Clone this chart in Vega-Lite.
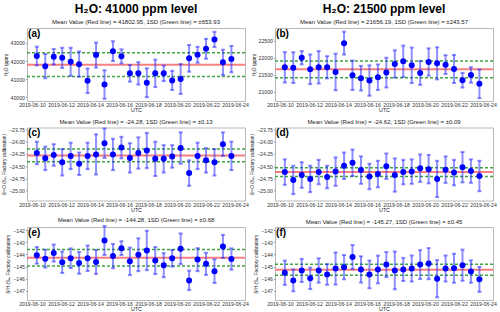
{
  "$schema": "https://vega.github.io/schema/vega-lite/v6.json",
  "background": "white",
  "padding": {"left": 0, "top": 2, "right": 1, "bottom": 0},
  "columns": 2,
  "bounds": "flush",
  "spacing": {"row": 26.5, "column": 30},
  "datasets": {
    "obs": [
      {"t": "2019-06-10T08:00:00Z", "a": 42280, "ae": 520, "b": 21716, "be": 445, "c": -24.23, "ce": 0.23, "d": -24.62, "de": 0.26, "e": -144.08, "ee": 0.68, "f": -145.51, "fe": 1.00},
      {"t": "2019-06-10T22:00:00Z", "a": 41720, "ae": 670, "b": 21706, "be": 450, "c": -24.34, "ce": 0.24, "d": -24.78, "de": 0.29, "e": -144.35, "ee": 0.74, "f": -146.14, "fe": 0.90},
      {"t": "2019-06-11T12:00:00Z", "a": 42240, "ae": 430, "b": 21997, "be": 195, "c": -24.27, "ce": 0.22, "d": -24.68, "de": 0.26, "e": -143.89, "ee": 0.70, "f": -145.32, "fe": 0.95},
      {"t": "2019-06-12T02:00:00Z", "a": 42180, "ae": 560, "b": 21658, "be": 435, "c": -24.42, "ce": 0.27, "d": -24.76, "de": 0.27, "e": -144.65, "ee": 0.88, "f": -145.97, "fe": 0.88},
      {"t": "2019-06-12T16:00:00Z", "a": 41960, "ae": 780, "b": 21716, "be": 475, "c": -24.29, "ce": 0.27, "d": -24.62, "de": 0.25, "e": -144.32, "ee": 0.81, "f": -145.32, "fe": 1.00},
      {"t": "2019-06-13T06:00:00Z", "a": 41830, "ae": 700, "b": 21716, "be": 325, "c": -24.45, "ce": 0.23, "d": -24.72, "de": 0.23, "e": -144.70, "ee": 0.89, "f": -145.65, "fe": 0.85},
      {"t": "2019-06-13T20:00:00Z", "a": 40910, "ae": 680, "b": 21580, "be": 535, "c": -24.29, "ce": 0.27, "d": -24.61, "de": 0.29, "e": -144.32, "ee": 1.05, "f": -145.16, "fe": 1.32},
      {"t": "2019-06-14T10:00:00Z", "a": 42330, "ae": 690, "b": 22423, "be": 335, "c": -24.26, "ce": 0.41, "d": -24.49, "de": 0.27, "e": -144.62, "ee": 0.99, "f": -145.05, "fe": 1.00},
      {"t": "2019-06-15T00:00:00Z", "a": 40700, "ae": 790, "b": 21484, "be": 430, "c": -24.03, "ce": 0.30, "d": -24.43, "de": 0.27, "e": -142.86, "ee": 1.19, "f": -144.22, "fe": 0.99},
      {"t": "2019-06-15T14:00:00Z", "a": 42550, "ae": 550, "b": 21397, "be": 360, "c": -24.26, "ce": 0.32, "d": -24.58, "de": 0.28, "e": -144.14, "ee": 1.00, "f": -145.24, "fe": 1.08},
      {"t": "2019-06-16T04:00:00Z", "a": 42260, "ae": 390, "b": 21329, "be": 445, "c": -24.12, "ce": 0.22, "d": -24.71, "de": 0.26, "e": -143.49, "ee": 0.57, "f": -145.65, "fe": 1.14},
      {"t": "2019-06-16T18:00:00Z", "a": 41320, "ae": 460, "b": 21426, "be": 375, "c": -24.33, "ce": 0.30, "d": -24.66, "de": 0.27, "e": -144.57, "ee": 1.13, "f": -145.24, "fe": 1.14},
      {"t": "2019-06-17T08:00:00Z", "a": 41320, "ae": 620, "b": 21561, "be": 435, "c": -24.23, "ce": 0.32, "d": -24.50, "de": 0.26, "e": -144.03, "ee": 1.35, "f": -144.84, "fe": 1.03},
      {"t": "2019-06-17T22:00:00Z", "a": 40800, "ae": 800, "b": 21813, "be": 400, "c": -24.18, "ce": 0.36, "d": -24.68, "de": 0.34, "e": -143.68, "ee": 1.62, "f": -145.32, "fe": 1.55},
      {"t": "2019-06-18T12:00:00Z", "a": 41320, "ae": 760, "b": 21890, "be": 460, "c": -24.35, "ce": 0.35, "d": -24.62, "de": 0.25, "e": -144.51, "ee": 1.11, "f": -145.24, "fe": 0.95},
      {"t": "2019-06-19T02:00:00Z", "a": 41320, "ae": 430, "b": 21774, "be": 520, "c": -24.35, "ce": 0.28, "d": -24.61, "de": 0.25, "e": -144.89, "ee": 0.99, "f": -145.16, "fe": 1.07},
      {"t": "2019-06-19T16:00:00Z", "a": 40930, "ae": 530, "b": 21551, "be": 350, "c": -24.30, "ce": 0.23, "d": -24.54, "de": 0.28, "e": -144.32, "ee": 0.68, "f": -144.84, "fe": 1.19},
      {"t": "2019-06-20T06:00:00Z", "a": 41010, "ae": 830, "b": 21871, "be": 400, "c": -24.13, "ce": 0.32, "d": -24.56, "de": 0.29, "e": -143.54, "ee": 1.26, "f": -144.76, "fe": 1.28},
      {"t": "2019-06-20T20:00:00Z", "a": 42150, "ae": 740, "b": 21832, "be": 470, "c": -24.64, "ce": 0.26, "d": -24.76, "de": 0.37, "e": -146.14, "ee": 0.80, "f": -146.00, "fe": 1.53},
      {"t": "2019-06-21T10:00:00Z", "a": 42350, "ae": 440, "b": 21794, "be": 275, "c": -24.29, "ce": 0.27, "d": -24.57, "de": 0.27, "e": -144.43, "ee": 0.95, "f": -145.16, "fe": 1.07},
      {"t": "2019-06-22T00:00:00Z", "a": 42680, "ae": 550, "b": 21667, "be": 410, "c": -24.38, "ce": 0.25, "d": -24.63, "de": 0.26, "e": -144.78, "ee": 0.91, "f": -145.14, "fe": 1.19},
      {"t": "2019-06-22T14:00:00Z", "a": 43200, "ae": 420, "b": 21338, "be": 215, "c": -24.42, "ce": 0.27, "d": -24.52, "de": 0.31, "e": -145.38, "ee": 0.97, "f": -144.89, "fe": 1.28},
      {"t": "2019-06-23T04:00:00Z", "a": 41930, "ae": 700, "b": 21494, "be": 225, "c": -24.05, "ce": 0.24, "d": -24.60, "de": 0.24, "e": -143.35, "ee": 0.95, "f": -145.41, "fe": 0.92},
      {"t": "2019-06-23T18:00:00Z", "a": 42110, "ae": 730, "b": 21232, "be": 420, "c": -24.29, "ce": 0.29, "d": -24.70, "de": 0.31, "e": -144.38, "ee": 0.88, "f": -146.05, "fe": 1.03}
    ]
  },
  "concat": [
    {
      "title": {"text": "H₂O: 41000 ppm level", "subtitle": "Mean Value (Red line) = 41802.95, 1SD (Green line) = ±653.93", "fontSize": 12, "fontWeight": "bold", "subtitleFontSize": 6, "subtitlePadding": 3, "subtitleColor": "#222", "color": "#000", "offset": 2},
      "width": 218, "height": 73,
      "layer": [
        {"data": {"values": [{"y": 42456.88}, {"y": 41149.02}]}, "mark": {"type": "rule", "color": "#2f9a2f", "strokeWidth": 1.5, "strokeDash": [3, 2], "opacity": 0.9}, "encoding": {"y": {"field": "y", "type": "quantitative", "title": "H₂O (ppm)"}}},
        {"data": {"values": [{"y": 41802.95}]}, "mark": {"type": "rule", "color": "#f46a6a", "strokeWidth": 2, "opacity": 0.85}, "encoding": {"y": {"field": "y", "type": "quantitative", "title": "H₂O (ppm)"}}},
        {"data": {"name": "obs"}, "mark": {"type": "errorbar", "ticks": true, "thickness": 2, "color": "#2020ff", "opacity": 0.5},
         "encoding": {"x": {"field": "t", "type": "temporal", "title": "UTC", "scale": {"type": "utc", "domain": [{"year": 2019, "month": 6, "date": 9, "hours": 15, "minutes": 45, "utc": true}, {"year": 2019, "month": 6, "date": 24, "hours": 16, "minutes": 30, "utc": true}]}, "axis": {"format": "%Y-%m-%d", "values": [{"year": 2019, "month": 6, "date": 10, "utc": true}, {"year": 2019, "month": 6, "date": 12, "utc": true}, {"year": 2019, "month": 6, "date": 14, "utc": true}, {"year": 2019, "month": 6, "date": 16, "utc": true}, {"year": 2019, "month": 6, "date": 18, "utc": true}, {"year": 2019, "month": 6, "date": 20, "utc": true}, {"year": 2019, "month": 6, "date": 22, "utc": true}, {"year": 2019, "month": 6, "date": 24, "utc": true}]}},
                      "y": {"field": "a", "type": "quantitative", "title": "H₂O (ppm)", "scale": {"domain": [39790, 43830], "nice": false, "zero": false}, "axis": {"values": [40000, 41000, 42000, 43000], "format": "d"}},
                      "yError": {"field": "ae"}}},
        {"data": {"name": "obs"}, "mark": {"type": "point", "shape": "circle", "filled": true, "size": 36, "color": "#0000ff", "opacity": 1},
         "encoding": {"x": {"field": "t", "type": "temporal", "title": "UTC"}, "y": {"field": "a", "type": "quantitative", "title": "H₂O (ppm)"}}},
        {"data": {"values": [{"t": "2019-06-09T17:30:00Z", "v": 43500, "s": "(a)"}]}, "mark": {"type": "text", "fontSize": 10, "fontWeight": "bold", "align": "left", "baseline": "middle", "color": "#000"},
         "encoding": {"x": {"field": "t", "type": "temporal", "title": "UTC"}, "y": {"field": "v", "type": "quantitative", "title": "H₂O (ppm)"}, "text": {"field": "s"}}}
      ]
    },
    {
      "title": {"text": "H₂O: 21500 ppm level", "subtitle": "Mean Value (Red line) = 21656.19, 1SD (Green line) = ±243.57", "fontSize": 12, "fontWeight": "bold", "subtitleFontSize": 6, "subtitlePadding": 3, "subtitleColor": "#222", "color": "#000", "offset": 2},
      "width": 218, "height": 73,
      "layer": [
        {"data": {"values": [{"y": 21899.76}, {"y": 21412.62}]}, "mark": {"type": "rule", "color": "#2f9a2f", "strokeWidth": 1.5, "strokeDash": [3, 2], "opacity": 0.9}, "encoding": {"y": {"field": "y", "type": "quantitative", "title": "H₂O (ppm)"}}},
        {"data": {"values": [{"y": 21656.19}]}, "mark": {"type": "rule", "color": "#f46a6a", "strokeWidth": 2, "opacity": 0.85}, "encoding": {"y": {"field": "y", "type": "quantitative", "title": "H₂O (ppm)"}}},
        {"data": {"name": "obs"}, "mark": {"type": "errorbar", "ticks": true, "thickness": 2, "color": "#2020ff", "opacity": 0.5},
         "encoding": {"x": {"field": "t", "type": "temporal", "title": "UTC", "scale": {"type": "utc", "domain": [{"year": 2019, "month": 6, "date": 9, "hours": 15, "minutes": 45, "utc": true}, {"year": 2019, "month": 6, "date": 24, "hours": 16, "minutes": 30, "utc": true}]}, "axis": {"format": "%Y-%m-%d", "values": [{"year": 2019, "month": 6, "date": 10, "utc": true}, {"year": 2019, "month": 6, "date": 12, "utc": true}, {"year": 2019, "month": 6, "date": 14, "utc": true}, {"year": 2019, "month": 6, "date": 16, "utc": true}, {"year": 2019, "month": 6, "date": 18, "utc": true}, {"year": 2019, "month": 6, "date": 20, "utc": true}, {"year": 2019, "month": 6, "date": 22, "utc": true}, {"year": 2019, "month": 6, "date": 24, "utc": true}]}},
                      "y": {"field": "b", "type": "quantitative", "title": "H₂O (ppm)", "scale": {"domain": [20730, 22866], "nice": false, "zero": false}, "axis": {"values": [21000, 21500, 22000, 22500], "format": "d"}},
                      "yError": {"field": "be"}}},
        {"data": {"name": "obs"}, "mark": {"type": "point", "shape": "circle", "filled": true, "size": 36, "color": "#0000ff", "opacity": 1},
         "encoding": {"x": {"field": "t", "type": "temporal", "title": "UTC"}, "y": {"field": "b", "type": "quantitative", "title": "H₂O (ppm)"}}},
        {"data": {"values": [{"t": "2019-06-09T17:30:00Z", "v": 22695, "s": "(b)"}]}, "mark": {"type": "text", "fontSize": 10, "fontWeight": "bold", "align": "left", "baseline": "middle", "color": "#000"},
         "encoding": {"x": {"field": "t", "type": "temporal", "title": "UTC"}, "y": {"field": "v", "type": "quantitative", "title": "H₂O (ppm)"}, "text": {"field": "s"}}}
      ]
    },
    {
      "title": {"text": "Mean Value (Red line) = -24.28, 1SD (Green line) = ±0.13"},
      "width": 218, "height": 73,
      "layer": [
        {"data": {"values": [{"y": -24.15}, {"y": -24.41}]}, "mark": {"type": "rule", "color": "#2f9a2f", "strokeWidth": 1.5, "strokeDash": [3, 2], "opacity": 0.9}, "encoding": {"y": {"field": "y", "type": "quantitative", "title": "δ¹⁸O (‰, Factory calibration)"}}},
        {"data": {"values": [{"y": -24.28}]}, "mark": {"type": "rule", "color": "#f46a6a", "strokeWidth": 2, "opacity": 0.85}, "encoding": {"y": {"field": "y", "type": "quantitative", "title": "δ¹⁸O (‰, Factory calibration)"}}},
        {"data": {"name": "obs"}, "mark": {"type": "errorbar", "ticks": true, "thickness": 2, "color": "#2020ff", "opacity": 0.5},
         "encoding": {"x": {"field": "t", "type": "temporal", "title": "UTC", "scale": {"type": "utc", "domain": [{"year": 2019, "month": 6, "date": 9, "hours": 15, "minutes": 45, "utc": true}, {"year": 2019, "month": 6, "date": 24, "hours": 16, "minutes": 30, "utc": true}]}, "axis": {"format": "%Y-%m-%d", "values": [{"year": 2019, "month": 6, "date": 10, "utc": true}, {"year": 2019, "month": 6, "date": 12, "utc": true}, {"year": 2019, "month": 6, "date": 14, "utc": true}, {"year": 2019, "month": 6, "date": 16, "utc": true}, {"year": 2019, "month": 6, "date": 18, "utc": true}, {"year": 2019, "month": 6, "date": 20, "utc": true}, {"year": 2019, "month": 6, "date": 22, "utc": true}, {"year": 2019, "month": 6, "date": 24, "utc": true}]}},
                      "y": {"field": "c", "type": "quantitative", "title": "δ¹⁸O (‰, Factory calibration)", "scale": {"domain": [-25.2, -23.71], "nice": false, "zero": false}, "axis": {"values": [-25, -24.75, -24.5, -24.25, -24, -23.75], "format": ".2f"}},
                      "yError": {"field": "ce"}}},
        {"data": {"name": "obs"}, "mark": {"type": "point", "shape": "circle", "filled": true, "size": 36, "color": "#0000ff", "opacity": 1},
         "encoding": {"x": {"field": "t", "type": "temporal", "title": "UTC"}, "y": {"field": "c", "type": "quantitative", "title": "δ¹⁸O (‰, Factory calibration)"}}},
        {"data": {"values": [{"t": "2019-06-09T17:30:00Z", "v": -23.83, "s": "(c)"}]}, "mark": {"type": "text", "fontSize": 10, "fontWeight": "bold", "align": "left", "baseline": "middle", "color": "#000"},
         "encoding": {"x": {"field": "t", "type": "temporal", "title": "UTC"}, "y": {"field": "v", "type": "quantitative", "title": "δ¹⁸O (‰, Factory calibration)"}, "text": {"field": "s"}}}
      ]
    },
    {
      "title": {"text": "Mean Value (Red line) = -24.62, 1SD (Green line) = ±0.09"},
      "width": 218, "height": 73,
      "layer": [
        {"data": {"values": [{"y": -24.53}, {"y": -24.71}]}, "mark": {"type": "rule", "color": "#2f9a2f", "strokeWidth": 1.5, "strokeDash": [3, 2], "opacity": 0.9}, "encoding": {"y": {"field": "y", "type": "quantitative", "title": "δ¹⁸O (‰, Factory calibration)"}}},
        {"data": {"values": [{"y": -24.62}]}, "mark": {"type": "rule", "color": "#f46a6a", "strokeWidth": 2, "opacity": 0.85}, "encoding": {"y": {"field": "y", "type": "quantitative", "title": "δ¹⁸O (‰, Factory calibration)"}}},
        {"data": {"name": "obs"}, "mark": {"type": "errorbar", "ticks": true, "thickness": 2, "color": "#2020ff", "opacity": 0.5},
         "encoding": {"x": {"field": "t", "type": "temporal", "title": "UTC", "scale": {"type": "utc", "domain": [{"year": 2019, "month": 6, "date": 9, "hours": 15, "minutes": 45, "utc": true}, {"year": 2019, "month": 6, "date": 24, "hours": 16, "minutes": 30, "utc": true}]}, "axis": {"format": "%Y-%m-%d", "values": [{"year": 2019, "month": 6, "date": 10, "utc": true}, {"year": 2019, "month": 6, "date": 12, "utc": true}, {"year": 2019, "month": 6, "date": 14, "utc": true}, {"year": 2019, "month": 6, "date": 16, "utc": true}, {"year": 2019, "month": 6, "date": 18, "utc": true}, {"year": 2019, "month": 6, "date": 20, "utc": true}, {"year": 2019, "month": 6, "date": 22, "utc": true}, {"year": 2019, "month": 6, "date": 24, "utc": true}]}},
                      "y": {"field": "d", "type": "quantitative", "title": "δ¹⁸O (‰, Factory calibration)", "scale": {"domain": [-25.2, -23.71], "nice": false, "zero": false}, "axis": {"values": [-25, -24.75, -24.5, -24.25, -24, -23.75], "format": ".2f"}},
                      "yError": {"field": "de"}}},
        {"data": {"name": "obs"}, "mark": {"type": "point", "shape": "circle", "filled": true, "size": 36, "color": "#0000ff", "opacity": 1},
         "encoding": {"x": {"field": "t", "type": "temporal", "title": "UTC"}, "y": {"field": "d", "type": "quantitative", "title": "δ¹⁸O (‰, Factory calibration)"}}},
        {"data": {"values": [{"t": "2019-06-09T17:30:00Z", "v": -23.83, "s": "(d)"}]}, "mark": {"type": "text", "fontSize": 10, "fontWeight": "bold", "align": "left", "baseline": "middle", "color": "#000"},
         "encoding": {"x": {"field": "t", "type": "temporal", "title": "UTC"}, "y": {"field": "v", "type": "quantitative", "title": "δ¹⁸O (‰, Factory calibration)"}, "text": {"field": "s"}}}
      ]
    },
    {
      "title": {"text": "Mean Value (Red line) = -144.28, 1SD (Green line) = ±0.68"},
      "width": 218, "height": 73,
      "layer": [
        {"data": {"values": [{"y": -143.60}, {"y": -144.96}]}, "mark": {"type": "rule", "color": "#2f9a2f", "strokeWidth": 1.5, "strokeDash": [3, 2], "opacity": 0.9}, "encoding": {"y": {"field": "y", "type": "quantitative", "title": "δ²H (‰, Factory calibration)"}}},
        {"data": {"values": [{"y": -144.28}]}, "mark": {"type": "rule", "color": "#f46a6a", "strokeWidth": 2, "opacity": 0.85}, "encoding": {"y": {"field": "y", "type": "quantitative", "title": "δ²H (‰, Factory calibration)"}}},
        {"data": {"name": "obs"}, "mark": {"type": "errorbar", "ticks": true, "thickness": 2, "color": "#2020ff", "opacity": 0.5},
         "encoding": {"x": {"field": "t", "type": "temporal", "title": "UTC", "scale": {"type": "utc", "domain": [{"year": 2019, "month": 6, "date": 9, "hours": 15, "minutes": 45, "utc": true}, {"year": 2019, "month": 6, "date": 24, "hours": 16, "minutes": 30, "utc": true}]}, "axis": {"format": "%Y-%m-%d", "values": [{"year": 2019, "month": 6, "date": 10, "utc": true}, {"year": 2019, "month": 6, "date": 12, "utc": true}, {"year": 2019, "month": 6, "date": 14, "utc": true}, {"year": 2019, "month": 6, "date": 16, "utc": true}, {"year": 2019, "month": 6, "date": 18, "utc": true}, {"year": 2019, "month": 6, "date": 20, "utc": true}, {"year": 2019, "month": 6, "date": 22, "utc": true}, {"year": 2019, "month": 6, "date": 24, "utc": true}]}},
                      "y": {"field": "e", "type": "quantitative", "title": "δ²H (‰, Factory calibration)", "scale": {"domain": [-147.75, -141.75], "nice": false, "zero": false}, "axis": {"values": [-147, -146, -145, -144, -143, -142], "format": "d"}},
                      "yError": {"field": "ee"}}},
        {"data": {"name": "obs"}, "mark": {"type": "point", "shape": "circle", "filled": true, "size": 36, "color": "#0000ff", "opacity": 1},
         "encoding": {"x": {"field": "t", "type": "temporal", "title": "UTC"}, "y": {"field": "e", "type": "quantitative", "title": "δ²H (‰, Factory calibration)"}}},
        {"data": {"values": [{"t": "2019-06-09T17:30:00Z", "v": -142.25, "s": "(e)"}]}, "mark": {"type": "text", "fontSize": 10, "fontWeight": "bold", "align": "left", "baseline": "middle", "color": "#000"},
         "encoding": {"x": {"field": "t", "type": "temporal", "title": "UTC"}, "y": {"field": "v", "type": "quantitative", "title": "δ²H (‰, Factory calibration)"}, "text": {"field": "s"}}}
      ]
    },
    {
      "title": {"text": "Mean Value (Red line) = -145.27, 1SD (Green line) = ±0.45"},
      "width": 218, "height": 73,
      "layer": [
        {"data": {"values": [{"y": -144.82}, {"y": -145.72}]}, "mark": {"type": "rule", "color": "#2f9a2f", "strokeWidth": 1.5, "strokeDash": [3, 2], "opacity": 0.9}, "encoding": {"y": {"field": "y", "type": "quantitative", "title": "δ²H (‰, Factory calibration)"}}},
        {"data": {"values": [{"y": -145.27}]}, "mark": {"type": "rule", "color": "#f46a6a", "strokeWidth": 2, "opacity": 0.85}, "encoding": {"y": {"field": "y", "type": "quantitative", "title": "δ²H (‰, Factory calibration)"}}},
        {"data": {"name": "obs"}, "mark": {"type": "errorbar", "ticks": true, "thickness": 2, "color": "#2020ff", "opacity": 0.5},
         "encoding": {"x": {"field": "t", "type": "temporal", "title": "UTC", "scale": {"type": "utc", "domain": [{"year": 2019, "month": 6, "date": 9, "hours": 15, "minutes": 45, "utc": true}, {"year": 2019, "month": 6, "date": 24, "hours": 16, "minutes": 30, "utc": true}]}, "axis": {"format": "%Y-%m-%d", "values": [{"year": 2019, "month": 6, "date": 10, "utc": true}, {"year": 2019, "month": 6, "date": 12, "utc": true}, {"year": 2019, "month": 6, "date": 14, "utc": true}, {"year": 2019, "month": 6, "date": 16, "utc": true}, {"year": 2019, "month": 6, "date": 18, "utc": true}, {"year": 2019, "month": 6, "date": 20, "utc": true}, {"year": 2019, "month": 6, "date": 22, "utc": true}, {"year": 2019, "month": 6, "date": 24, "utc": true}]}},
                      "y": {"field": "f", "type": "quantitative", "title": "δ²H (‰, Factory calibration)", "scale": {"domain": [-147.75, -141.75], "nice": false, "zero": false}, "axis": {"values": [-147, -146, -145, -144, -143, -142], "format": "d"}},
                      "yError": {"field": "fe"}}},
        {"data": {"name": "obs"}, "mark": {"type": "point", "shape": "circle", "filled": true, "size": 36, "color": "#0000ff", "opacity": 1},
         "encoding": {"x": {"field": "t", "type": "temporal", "title": "UTC"}, "y": {"field": "f", "type": "quantitative", "title": "δ²H (‰, Factory calibration)"}}},
        {"data": {"values": [{"t": "2019-06-09T17:30:00Z", "v": -142.25, "s": "(f)"}]}, "mark": {"type": "text", "fontSize": 10, "fontWeight": "bold", "align": "left", "baseline": "middle", "color": "#000"},
         "encoding": {"x": {"field": "t", "type": "temporal", "title": "UTC"}, "y": {"field": "v", "type": "quantitative", "title": "δ²H (‰, Factory calibration)"}, "text": {"field": "s"}}}
      ]
    }
  ],
  "config": {
    "font": "Liberation Sans",
    "view": {"stroke": "#b8b8b8"},
    "axis": {"grid": false, "domain": false, "tickColor": "#999", "tickSize": 1.5, "tickCount": 30, "labelFontSize": 5.2, "labelColor": "#333", "labelPadding": 1, "labelOverlap": false, "labelFlush": false, "titleFontSize": 4.8, "titleFontWeight": "normal", "titleColor": "#222", "titlePadding": 2},
    "axisX": {"titleFontSize": 5.3, "titlePadding": 0, "labelPadding": 0.5, "tickSize": 1},
    "title": {"fontSize": 6, "fontWeight": "normal", "color": "#222", "offset": 2},
    "errorbar": {"ticks": {"size": 4}}
  }
}
